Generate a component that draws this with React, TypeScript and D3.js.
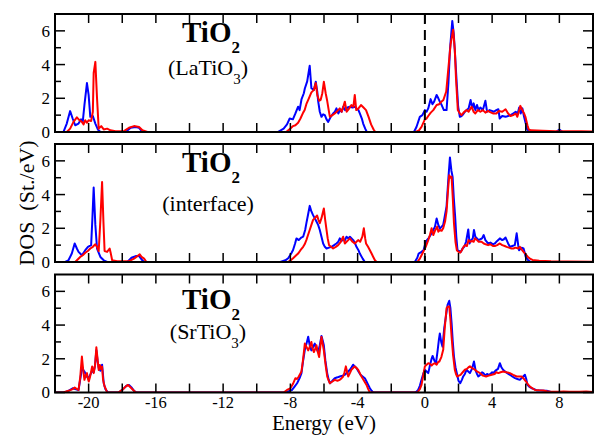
import React from "react";
import * as d3 from "d3";

type P = [number, number];

const laoBlue: P[] = [[-22,0],[-21.5,0],[-21.3,0.5],[-21.1,1.24],[-20.95,0.8],[-20.8,0.4],[-20.6,0.5],[-20.45,0.75],[-20.35,0.6],[-20.25,1.6],[-20.1,2.9],[-20.0,2.2],[-19.9,0.9],[-19.75,0.95],[-19.6,0.5],[-19.45,0.15],[-19.3,0],[-17.8,0],[-17.5,0.25],[-17.2,0.3],[-17.0,0.25],[-16.8,0],
[-8.75,0],[-8.4,0.2],[-8.2,0.45],[-8.04,0.8],[-7.85,0.75],[-7.7,1.1],[-7.54,1.5],[-7.45,1.3],[-7.34,1.93],[-7.2,2.3],[-7.14,2.58],[-7.0,3.0],[-6.85,3.93],[-6.75,2.6],[-6.6,2.5],[-6.49,2.98],[-6.4,2.4],[-6.35,1.85],[-6.25,1.2],[-6.15,0.9],[-6.05,1.05],[-5.95,1.0],[-5.85,0.75],[-5.75,0.6],[-5.6,0.9],[-5.46,1.1],[-5.35,1.2],[-5.26,1.4],[-5.15,1.1],[-5.05,1.3],[-4.95,1.2],[-4.86,1.5],[-4.75,1.3],[-4.6,1.45],[-4.46,1.5],[-4.3,1.45],[-4.15,1.5],[-4.07,1.4],[-3.95,1.3],[-3.87,1.1],[-3.75,0.8],[-3.67,0.5],[-3.55,0.2],[-3.45,0],
[-0.65,0],[-0.5,0.3],[-0.3,0.9],[-0.15,1.0],[0,1.3],[0.1,1.2],[0.2,1.4],[0.34,1.95],[0.45,1.65],[0.55,1.8],[0.7,2.2],[0.8,2.0],[0.89,1.8],[1.0,1.6],[1.13,1.3],[1.29,1.3],[1.4,2.9],[1.49,4.85],[1.63,6.59],[1.72,5.8],[1.8,4.5],[1.9,2.8],[1.98,1.5],[2.08,0.9],[2.18,0.95],[2.28,1.05],[2.38,1.2],[2.48,1.3],[2.6,1.4],[2.72,1.9],[2.82,1.4],[2.9,1.7],[3.0,1.3],[3.1,1.6],[3.2,1.3],[3.3,1.45],[3.45,1.3],[3.6,1.85],[3.7,1.2],[3.85,1.3],[3.98,1.25],[4.1,1.2],[4.25,1.3],[4.37,1.35],[4.45,0.8],[4.6,0.95],[4.8,0.9],[4.95,0.95],[5.1,1.0],[5.25,1.1],[5.4,1.2],[5.52,1.1],[5.61,1.45],[5.7,1.1],[5.8,1.4],[5.9,0.9],[6.0,0.5],[6.06,0.2],[6.2,0.02],[7.8,0],[8.0,0.15],[8.2,0],[10,0]];

const laoRed: P[] = [[-22,0],[-21.3,0],[-21.1,0.2],[-20.9,0.6],[-20.7,0.87],[-20.55,0.7],[-20.4,0.6],[-20.3,0.45],[-20.2,0.7],[-20.1,0.55],[-20.0,0.7],[-19.85,0.65],[-19.75,1.2],[-19.7,3.5],[-19.6,4.16],[-19.5,2.0],[-19.4,0.2],[-19.25,0.35],[-19.1,0.15],[-18.9,0.2],[-18.7,0.1],[-18.4,0.05],[-17.9,0.05],[-17.6,0.25],[-17.3,0.35],[-17.0,0.3],[-16.8,0.1],[-16.5,0],
[-8.25,0],[-8.0,0.2],[-7.84,0.35],[-7.7,0.4],[-7.54,0.55],[-7.4,0.8],[-7.24,1.15],[-7.15,1.3],[-7.05,1.65],[-6.9,2.0],[-6.75,2.35],[-6.6,2.5],[-6.49,2.9],[-6.4,2.2],[-6.29,1.85],[-6.2,1.9],[-6.1,2.3],[-6.01,2.98],[-5.9,2.3],[-5.81,1.85],[-5.72,1.3],[-5.65,0.9],[-5.5,1.0],[-5.36,1.1],[-5.2,1.25],[-5.06,1.4],[-4.95,1.2],[-4.85,1.5],[-4.76,1.8],[-4.65,1.2],[-4.5,1.4],[-4.37,1.6],[-4.25,1.5],[-4.17,2.2],[-4.08,1.3],[-3.95,1.4],[-3.8,1.6],[-3.65,1.45],[-3.5,1.3],[-3.35,0.9],[-3.2,0.45],[-3.05,0.15],[-2.95,0],
[-0.55,0],[-0.35,0.1],[-0.2,0.3],[0,0.75],[0.1,0.8],[0.2,0.95],[0.35,1.15],[0.5,1.3],[0.7,1.6],[0.85,1.65],[0.98,1.8],[1.1,1.9],[1.27,2.4],[1.4,3.8],[1.53,5.2],[1.68,6.07],[1.78,4.9],[1.85,3.2],[1.96,1.3],[2.08,1.1],[2.18,1.0],[2.3,1.15],[2.48,1.3],[2.6,1.2],[2.78,1.5],[2.9,1.2],[3.0,1.1],[3.15,1.3],[3.3,1.2],[3.45,1.3],[3.6,1.15],[3.75,1.25],[3.85,1.2],[4.05,1.1],[4.25,1.1],[4.4,1.25],[4.6,1.2],[4.8,1.35],[4.95,1.1],[5.1,0.95],[5.25,1.0],[5.4,1.1],[5.5,0.9],[5.6,1.25],[5.68,1.55],[5.8,1.3],[5.9,1.1],[5.98,0.9],[6.1,0.4],[6.18,0.15],[6.3,0.1],[7.0,0.08],[7.8,0.05],[8.5,0.05],[9.3,0.05],[10,0.03]];

const intBlue: P[] = [[-22,0],[-21.4,0],[-21.2,0.1],[-21.0,0.5],[-20.83,1.1],[-20.7,0.8],[-20.6,0.6],[-20.4,0.4],[-20.2,0.7],[-20.04,0.9],[-19.85,1.0],[-19.78,2.5],[-19.7,4.42],[-19.6,2.2],[-19.5,0.8],[-19.3,0.3],[-19.1,0.1],[-18.9,0],[-17.7,0],[-17.45,0.25],[-17.2,0.35],[-17.0,0.35],[-16.85,0.15],[-16.7,0],
[-8.6,0],[-8.3,0.1],[-8.13,0.22],[-7.95,0.5],[-7.84,0.71],[-7.72,1.1],[-7.64,1.4],[-7.5,1.3],[-7.35,1.45],[-7.24,1.5],[-7.12,1.9],[-7.05,2.29],[-6.95,2.8],[-6.85,3.33],[-6.75,3.0],[-6.65,2.78],[-6.55,2.6],[-6.45,2.4],[-6.35,2.2],[-6.25,1.9],[-6.15,1.5],[-6.05,1.1],[-5.95,0.9],[-5.85,0.8],[-5.7,0.85],[-5.55,0.9],[-5.4,1.0],[-5.26,1.1],[-5.15,1.2],[-5.06,1.4],[-4.95,1.25],[-4.86,1.35],[-4.75,1.3],[-4.66,1.5],[-4.56,1.4],[-4.46,1.5],[-4.36,1.4],[-4.26,1.3],[-4.15,1.1],[-4.07,0.9],[-3.95,0.7],[-3.87,0.5],[-3.7,0.2],[-3.57,0],
[-0.6,0],[-0.45,0.25],[-0.37,0.5],[-0.2,0.6],[-0.08,0.7],[0.0,1.0],[0.12,1.3],[0.25,1.45],[0.4,1.7],[0.5,1.9],[0.6,2.1],[0.7,2.58],[0.8,2.2],[0.89,1.99],[1.0,2.1],[1.09,2.2],[1.2,2.8],[1.29,3.3],[1.4,5.0],[1.49,6.2],[1.58,5.4],[1.65,5.05],[1.72,3.8],[1.8,2.7],[1.87,1.5],[1.94,0.7],[2.05,0.65],[2.14,0.6],[2.24,0.8],[2.34,0.9],[2.45,1.2],[2.58,1.93],[2.66,1.1],[2.75,1.3],[2.85,1.4],[2.92,1.9],[3.0,1.5],[3.1,1.4],[3.18,1.3],[3.3,1.35],[3.4,1.4],[3.5,1.6],[3.6,1.3],[3.76,1.1],[3.9,1.15],[4.05,1.05],[4.16,1.1],[4.3,1.25],[4.46,1.4],[4.6,1.3],[4.7,1.35],[4.8,1.45],[4.95,1.1],[5.06,0.9],[5.2,0.95],[5.35,1.0],[5.46,1.7],[5.55,1.0],[5.6,0.7],[5.75,0.85],[5.87,0.8],[5.95,0.5],[6.0,0.3],[6.15,0.1],[6.3,0],[10,0]];

const intRed: P[] = [[-22,0],[-20.8,0],[-20.65,0.15],[-20.5,0.3],[-20.35,0.4],[-20.2,0.55],[-20.05,0.65],[-19.9,0.8],[-19.75,0.9],[-19.6,1.05],[-19.5,0.9],[-19.4,0.65],[-19.3,2.5],[-19.2,4.75],[-19.12,2.4],[-19.05,0.65],[-18.9,0.6],[-18.75,0.8],[-18.68,0.5],[-18.6,0.1],[-18.3,0.05],[-17.6,0.05],[-17.3,0.2],[-16.96,0.45],[-16.85,0.3],[-16.7,0.2],[-16.56,0],
[-8.15,0],[-7.98,0.1],[-7.84,0.22],[-7.7,0.35],[-7.54,0.5],[-7.4,0.7],[-7.24,0.9],[-7.15,1.05],[-7.05,1.3],[-6.95,1.6],[-6.85,1.9],[-6.75,2.2],[-6.65,2.5],[-6.55,2.6],[-6.41,2.76],[-6.33,2.5],[-6.25,2.3],[-6.15,2.6],[-6.01,3.18],[-5.93,2.5],[-5.85,1.9],[-5.78,1.4],[-5.7,1.0],[-5.58,0.9],[-5.46,0.8],[-5.3,0.9],[-5.16,1.0],[-5.0,1.2],[-4.86,1.5],[-4.76,1.1],[-4.66,1.2],[-4.56,1.3],[-4.46,1.4],[-4.3,1.2],[-4.17,1.1],[-4.07,1.2],[-3.97,1.3],[-3.85,1.2],[-3.72,1.5],[-3.63,2.0],[-3.55,1.4],[-3.5,1.1],[-3.38,0.9],[-3.27,0.7],[-3.17,0.5],[-3.07,0.3],[-2.97,0.1],[-2.87,0],
[-0.45,0],[-0.3,0.2],[-0.2,0.4],[-0.05,0.7],[0.05,0.9],[0.2,1.3],[0.3,1.6],[0.4,2.0],[0.5,1.6],[0.6,1.85],[0.73,2.1],[0.8,1.8],[0.89,1.9],[1.0,1.85],[1.09,2.0],[1.2,2.4],[1.29,3.0],[1.38,4.3],[1.45,5.15],[1.52,5.0],[1.59,5.05],[1.66,3.8],[1.73,2.3],[1.82,1.2],[1.9,0.7],[2.0,0.6],[2.1,0.55],[2.2,0.7],[2.3,0.9],[2.4,1.0],[2.5,0.95],[2.6,1.3],[2.7,1.2],[2.8,1.25],[2.9,1.2],[2.98,1.4],[3.1,1.3],[3.2,1.2],[3.37,1.2],[3.5,1.1],[3.62,1.05],[3.76,1.0],[3.9,1.05],[4.05,0.95],[4.16,0.95],[4.3,1.0],[4.46,1.1],[4.6,1.0],[4.75,0.95],[4.86,0.9],[5.0,0.85],[5.15,0.8],[5.26,0.8],[5.4,0.85],[5.55,0.8],[5.65,0.9],[5.75,0.75],[5.87,0.6],[6.0,0.45],[6.13,0.3],[6.25,0.2],[6.4,0.12],[6.8,0.08],[7.5,0.05],[8.5,0.03],[10,0.02]];

const stoBlue: P[] = [[-22,0],[-21.45,0],[-21.2,0.1],[-20.95,0.25],[-20.8,0.2],[-20.6,0.15],[-20.48,0.9],[-20.38,1.5],[-20.3,1.3],[-20.25,1.25],[-20.12,0.95],[-20.0,0.85],[-19.88,1.1],[-19.79,1.3],[-19.7,1.2],[-19.62,1.6],[-19.54,2.5],[-19.47,1.9],[-19.4,1.45],[-19.3,1.3],[-19.2,1.65],[-19.1,0.55],[-19.0,0.2],[-18.85,0],[-18.2,0],[-17.95,0.2],[-17.75,0.4],[-17.6,0.45],[-17.45,0.3],[-17.3,0.1],[-17.15,0],
[-8.25,0],[-8.05,0.1],[-7.9,0.15],[-7.75,0.35],[-7.6,0.55],[-7.45,0.85],[-7.34,1.15],[-7.24,1.9],[-7.14,2.53],[-7.04,2.9],[-6.94,3.31],[-6.85,2.8],[-6.75,2.5],[-6.65,2.7],[-6.55,2.9],[-6.45,2.6],[-6.35,2.4],[-6.25,2.8],[-6.15,3.35],[-6.08,3.1],[-6.01,2.8],[-5.92,1.9],[-5.81,1.15],[-5.72,0.75],[-5.65,0.55],[-5.5,0.7],[-5.36,0.85],[-5.2,0.9],[-5.06,0.95],[-4.9,1.0],[-4.76,1.05],[-4.6,1.2],[-4.46,1.35],[-4.36,1.5],[-4.27,1.65],[-4.17,1.55],[-4.07,1.45],[-3.95,1.25],[-3.83,1.05],[-3.7,0.95],[-3.57,0.85],[-3.47,0.65],[-3.37,0.45],[-3.27,0.25],[-3.17,0.1],[-3.07,0],
[-0.6,0],[-0.5,0.05],[-0.4,0.15],[-0.3,0.4],[-0.2,0.75],[-0.1,1.1],[0,1.35],[0.1,1.25],[0.2,1.15],[0.3,1.6],[0.4,2.0],[0.46,2.17],[0.56,1.9],[0.66,1.74],[0.76,2.5],[0.83,3.1],[0.89,3.5],[0.97,3.0],[1.05,2.72],[1.15,3.8],[1.25,4.5],[1.35,5.2],[1.45,5.44],[1.52,5.0],[1.59,4.1],[1.66,3.0],[1.73,2.13],[1.82,1.5],[1.9,1.15],[2.0,0.7],[2.1,0.55],[2.2,0.75],[2.28,0.95],[2.38,1.1],[2.48,1.35],[2.58,1.25],[2.68,1.15],[2.8,1.4],[2.92,1.84],[3.02,1.3],[3.1,1.1],[3.18,0.95],[3.3,1.05],[3.4,1.2],[3.48,1.15],[3.6,1.0],[3.7,1.1],[3.78,1.05],[3.9,1.1],[4.0,1.2],[4.07,1.15],[4.2,1.3],[4.35,1.4],[4.46,1.74],[4.55,1.5],[4.65,1.35],[4.76,1.25],[4.9,1.15],[5.06,1.05],[5.2,0.95],[5.36,0.85],[5.5,0.8],[5.65,0.75],[5.8,0.9],[5.95,1.05],[6.03,0.8],[6.1,0.45],[6.2,0.35],[6.35,0.25],[6.5,0.2],[6.65,0.12],[6.9,0.12],[7.1,0.1],[7.25,0.1],[7.5,0.03],[7.8,0],[10,0]];

const stoRed: P[] = [[-22,0],[-21.5,0],[-21.2,0.1],[-20.95,0.2],[-20.83,0.3],[-20.7,0.2],[-20.6,0.15],[-20.5,0.9],[-20.4,2.13],[-20.33,1.4],[-20.25,0.75],[-20.18,1.0],[-20.1,1.15],[-20.04,0.8],[-19.99,0.65],[-19.92,0.9],[-19.85,1.25],[-19.79,1.54],[-19.7,1.15],[-19.62,1.6],[-19.54,2.68],[-19.47,2.0],[-19.4,1.34],[-19.33,1.63],[-19.27,1.4],[-19.2,1.54],[-19.14,0.75],[-19.05,0.35],[-19.0,0.26],[-18.9,0],[-18.25,0],[-18.0,0.15],[-17.8,0.35],[-17.66,0.45],[-17.5,0.3],[-17.35,0.15],[-17.2,0],
[-8.4,0],[-8.2,0.15],[-8.0,0.25],[-7.85,0.5],[-7.7,0.85],[-7.6,0.8],[-7.5,0.95],[-7.42,1.1],[-7.34,1.25],[-7.24,2.0],[-7.14,2.9],[-7.04,2.7],[-6.94,2.5],[-6.85,2.7],[-6.75,3.0],[-6.68,2.6],[-6.6,2.4],[-6.52,2.6],[-6.45,2.8],[-6.37,2.4],[-6.29,2.1],[-6.22,2.7],[-6.15,3.3],[-6.08,2.9],[-6.01,2.5],[-5.9,1.6],[-5.81,0.95],[-5.72,0.7],[-5.65,0.55],[-5.5,0.65],[-5.36,0.75],[-5.2,0.7],[-5.06,0.75],[-4.95,0.85],[-4.86,0.95],[-4.78,1.2],[-4.7,1.55],[-4.62,1.2],[-4.56,0.95],[-4.46,1.15],[-4.37,1.35],[-4.27,1.45],[-4.17,1.55],[-4.07,1.45],[-3.97,1.35],[-3.87,1.15],[-3.77,0.95],[-3.62,0.7],[-3.47,0.45],[-3.37,0.2],[-3.27,0],
[-0.45,0],[-0.3,0.2],[-0.2,0.45],[-0.1,1.0],[0,1.55],[0.1,1.65],[0.2,1.74],[0.3,1.7],[0.4,1.6],[0.5,1.7],[0.6,1.74],[0.7,1.65],[0.78,1.8],[0.86,1.84],[0.98,2.1],[1.09,2.53],[1.18,3.8],[1.29,5.0],[1.37,5.1],[1.45,5.1],[1.52,4.3],[1.59,3.3],[1.68,2.2],[1.78,1.35],[1.85,1.1],[1.92,0.95],[2.02,1.0],[2.12,1.05],[2.25,1.2],[2.38,1.35],[2.5,1.4],[2.6,1.5],[2.68,1.55],[2.8,1.45],[2.9,1.4],[2.98,1.35],[3.1,1.25],[3.2,1.2],[3.28,1.15],[3.45,1.0],[3.64,0.95],[3.8,1.0],[3.98,1.05],[4.15,1.1],[4.25,1.2],[4.37,1.15],[4.5,1.2],[4.66,1.25],[4.85,1.2],[5.06,1.15],[5.25,1.05],[5.46,0.95],[5.6,0.95],[5.75,0.95],[5.9,0.8],[6.02,0.65],[6.12,0.5],[6.25,0.35],[6.4,0.25],[6.55,0.15],[6.8,0.13],[7.05,0.12],[7.25,0.08],[7.45,0.05],[8.0,0.04],[8.25,0.06],[8.6,0.04],[9.2,0.04],[9.6,0.06],[10,0.03]];

const xTickLabels = [-20, -16, -12, -8, -4, 0, 4, 8];
const xTicks = [-20, -18, -16, -14, -12, -10, -8, -6, -4, -2, 0, 2, 4, 6, 8];
const yTicks = [0, 1, 2, 3, 4, 5, 6];
const yTickLabels = [0, 2, 4, 6];
const panelSubtitles = ["LaTiO", "interface", "SrTiO"];
const subtitleSubs = ["3", "", "3"];

const W = 596, H = 435;
const X0 = 55, X1 = 593;
const panels = [
  { top: 14, bottom: 132, blue: laoBlue, red: laoRed, tBase: 41.7, sBase: 75 },
  { top: 144, bottom: 262, blue: intBlue, red: intRed, tBase: 171.7, sBase: 210.5 },
  { top: 274.5, bottom: 392.5, blue: stoBlue, red: stoRed, tBase: 309, sBase: 338.5 },
];
const FONT = "'Liberation Serif', 'Times New Roman', serif";

export default function App() {
  const x = d3.scaleLinear().domain([-22, 10]).range([X0, X1]);
  return (
    <svg width={W} height={H} style={{ position: "absolute", left: 0, top: 0, background: "#fff" }} fontFamily={FONT}>
      <rect x={0} y={0} width={W} height={H} fill="#fff" />
      <defs>
        {panels.map((p, i) => (
          <clipPath id={`clip${i}`} key={i}>
            <rect x={X0} y={p.top} width={X1 - X0} height={p.bottom - p.top} />
          </clipPath>
        ))}
      </defs>
      {panels.map((p, i) => {
        const y = d3.scaleLinear().domain([0, 7]).range([p.bottom, p.top]);
        const line = d3.line<P>().x((d) => x(d[0])).y((d) => y(d[1]));
        return (
          <g key={i}>
            <g clipPath={`url(#clip${i})`}>
              <path d={line(p.blue) || ""} fill="none" stroke="#0000ff" strokeWidth={2} strokeLinejoin="round" />
              <path d={line(p.red) || ""} fill="none" stroke="#ff0000" strokeWidth={2} strokeLinejoin="round" />
            </g>
            <line x1={x(0)} x2={x(0)} y1={p.top} y2={p.bottom} stroke="#000" strokeWidth={2} strokeDasharray="10,6" />
            {xTicks.map((t) => (
              <g key={t}>
                <line x1={x(t)} x2={x(t)} y1={p.top} y2={p.top + 9} stroke="#000" strokeWidth={1.5} />
                <line x1={x(t)} x2={x(t)} y1={p.bottom} y2={p.bottom - 9} stroke="#000" strokeWidth={1.5} />
              </g>
            ))}
            {yTicks.map((t) => {
              const len = t % 2 === 0 ? 10 : 6;
              return (
                <g key={t}>
                  <line x1={X0} x2={X0 + len} y1={y(t)} y2={y(t)} stroke="#000" strokeWidth={1.5} />
                  <line x1={X1} x2={X1 - len} y1={y(t)} y2={y(t)} stroke="#000" strokeWidth={1.5} />
                </g>
              );
            })}
            {yTickLabels.map((t) => (
              <text key={t} x={50} y={y(t)} dy="0.35em" textAnchor="end" fontSize={17}>{t}</text>
            ))}
            <rect x={X0} y={p.top} width={X1 - X0} height={p.bottom - p.top} fill="none" stroke="#000" strokeWidth={2} />
            <text x={211} y={p.tBase} textAnchor="middle" fontWeight="bold" fontSize={29}>
              TiO<tspan fontSize={17} dy={11}>2</tspan>
            </text>
            <text x={208} y={p.sBase} textAnchor="middle" fontSize={22}>
              ({panelSubtitles[i]}
              {subtitleSubs[i] ? <tspan fontSize={15} dy={9}>{subtitleSubs[i]}</tspan> : null}
              {subtitleSubs[i] ? <tspan dy={-9}>)</tspan> : ")"}
            </text>
          </g>
        );
      })}
      {xTickLabels.map((t) => (
        <text key={t} x={x(t)} y={407.5} textAnchor="middle" fontSize={16.5}>{t}</text>
      ))}
      <text x={(X0 + X1) / 2} y={430} textAnchor="middle" fontSize={21}>Energy (eV)</text>
      <text transform={`translate(34,203) rotate(-90)`} textAnchor="middle" fontSize={22} style={{ whiteSpace: "pre" }}>{"DOS  (St./eV)"}</text>
    </svg>
  );
}
